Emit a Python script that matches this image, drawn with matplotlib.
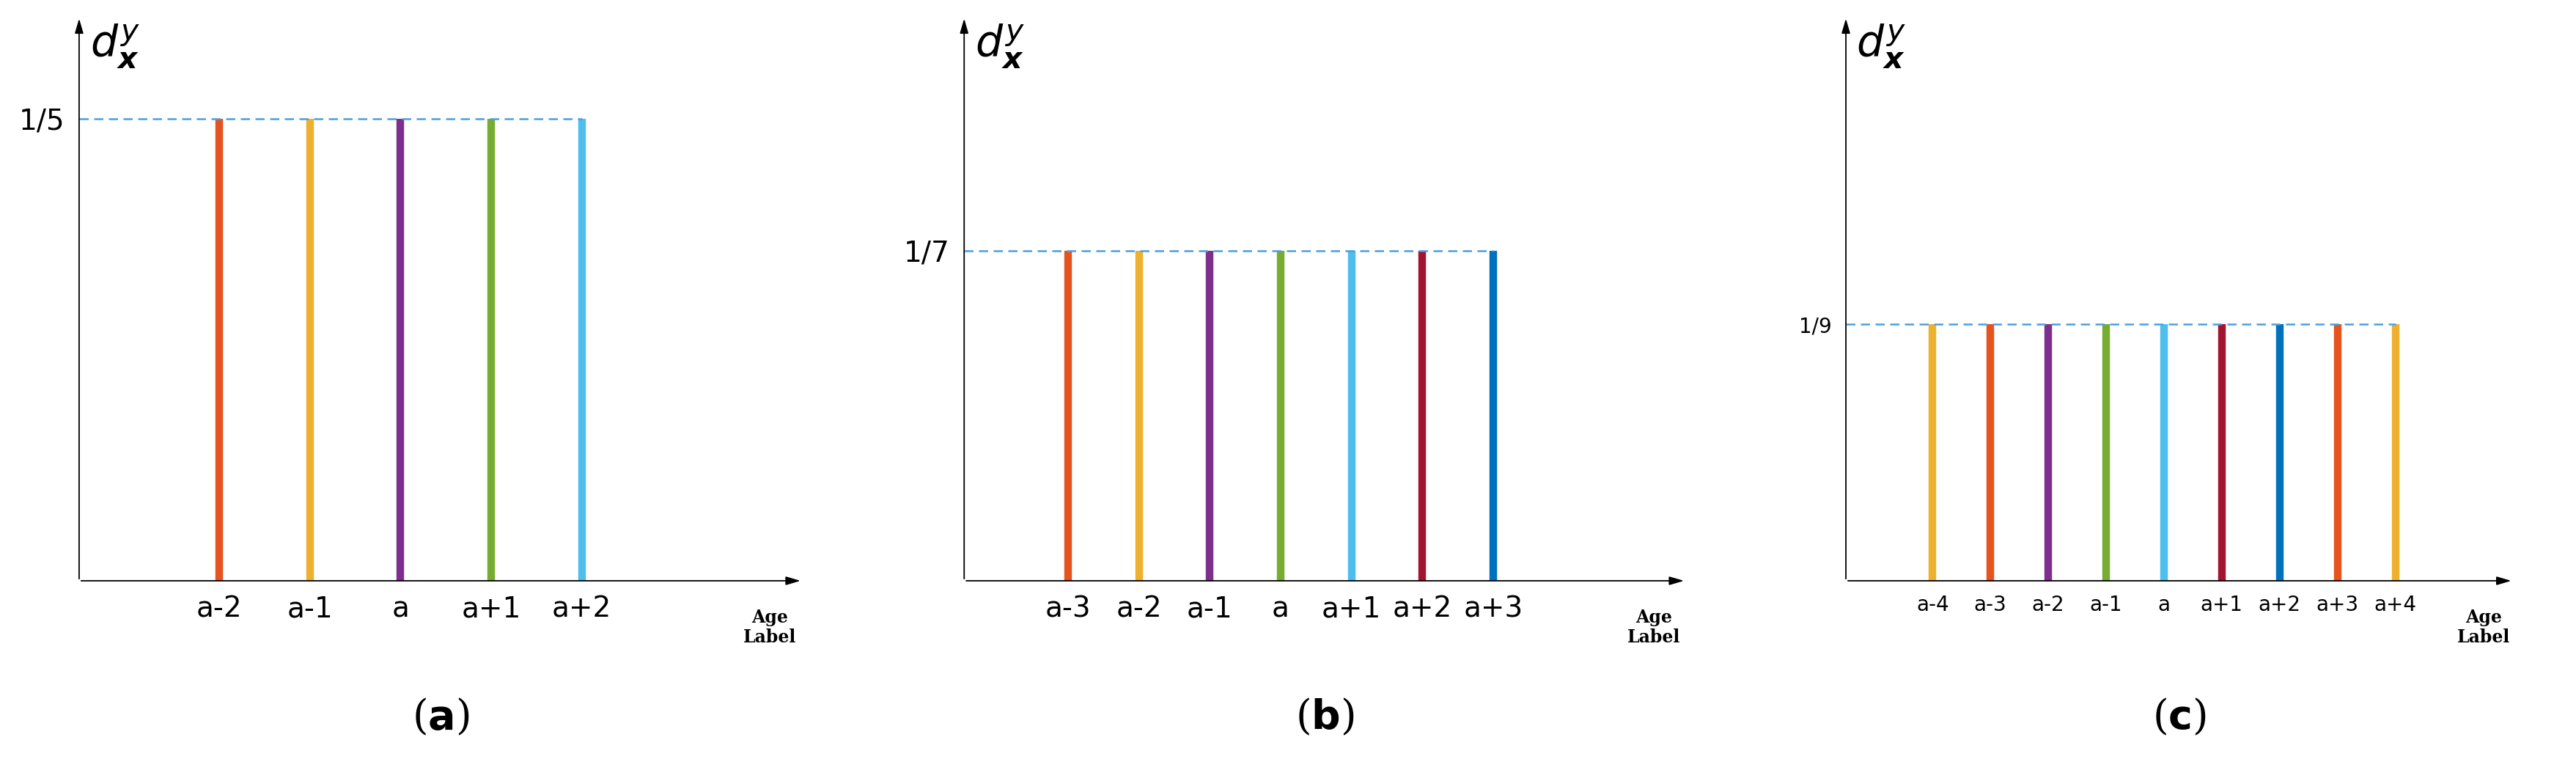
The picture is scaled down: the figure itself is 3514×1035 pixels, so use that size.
import matplotlib
matplotlib.use("Agg")
import matplotlib.pyplot as plt

labels_a = ["a-2", "a-1", "a", "a+1", "a+2"]
labels_b = ["a-3", "a-2", "a-1", "a", "a+1", "a+2", "a+3"]
labels_c = ["a-4", "a-3", "a-2", "a-1", "a", "a+1", "a+2", "a+3", "a+4"]
values_a = [1/5]*5
values_b = [1/7]*7
values_c = [1/9]*9
ytick_a, ytick_b, ytick_c = "1/5", "1/7", "1/9"
OR, YE, PU, GR, LB, DR, BL = "#E5531F", "#EDB12F", "#7E2F8E", "#77AC30", "#4DBEEE", "#A2142F", "#0072BD"
colors_a = [OR, YE, PU, GR, LB]
colors_b = [OR, YE, PU, GR, LB, DR, BL]
colors_c = [YE, OR, PU, GR, LB, DR, BL, OR, YE]

W, H = 1563, 460
fig = plt.figure(figsize=(35.14, 10.35), dpi=100)

panels = [
    (labels_a, values_a, colors_a, ytick_a, 48, 487, 55, 243, 28, "a"),
    (labels_b, values_b, colors_b, ytick_b, 585, 1023, 43, 777, 28, "b"),
    (labels_c, values_c, colors_c, ytick_c, 1120, 1525, 35.1, 1313, 20, "c"),
]
base, top = 352, 10
for labels, vals, cols, yt, x0, x1, sp, cx, fs, letter in panels:
    ax = fig.add_axes([x0/W, 1-base/H, (x1-x0)/W, (base-top)/H])
    n = len(labels)
    xs = [i - (n-1)/2 for i in range(n)]
    ax.set_xlim((x0-cx)/sp, (x1-cx)/sp)
    ax.set_ylim(0, (base-top)/1400)
    for s in ax.spines.values():
        s.set_visible(False)
    ax.vlines(xs, 0, vals, colors=cols, lw=7.5)
    ax.hlines(vals[0], (x0-cx)/sp, xs[-1], colors="#4A9FE0", lw=1.8, linestyles=(0, (5, 3)))
    ax.annotate("", xy=(0, 1), xytext=(0, 0), xycoords="axes fraction",
                arrowprops=dict(arrowstyle="-|>,head_width=0.35,head_length=1.2", color="black", lw=1.3))
    ax.annotate("", xy=(1, 0), xytext=(0, 0), xycoords="axes fraction",
                arrowprops=dict(arrowstyle="-|>,head_width=0.35,head_length=1.2", color="black", lw=1.3))
    ax.set_xticks(xs)
    ax.set_xticklabels(labels, fontsize=fs)
    ax.set_yticks([vals[0]])
    ax.set_yticklabels([yt], fontsize=fs)
    ax.tick_params(length=0, pad=14)
    ax.text(0.015, 0.99, r"$d_{\boldsymbol{x}}^{y}$", transform=ax.transAxes, fontsize=42,
            va="top", ha="left")
    ax.text(0.955, -0.05, "Age\nLabel", transform=ax.transAxes, fontsize=17, family="DejaVu Serif",
            weight="bold", ha="center", va="top", linespacing=1.15)
    fig.text((x0+x1)/2/W, 1-435/H, "(" + r"$\mathbf{" + letter + "}$" + ")", fontsize=40,
             family="DejaVu Serif", ha="center", va="center")

fig.savefig("out.png", dpi=100)
